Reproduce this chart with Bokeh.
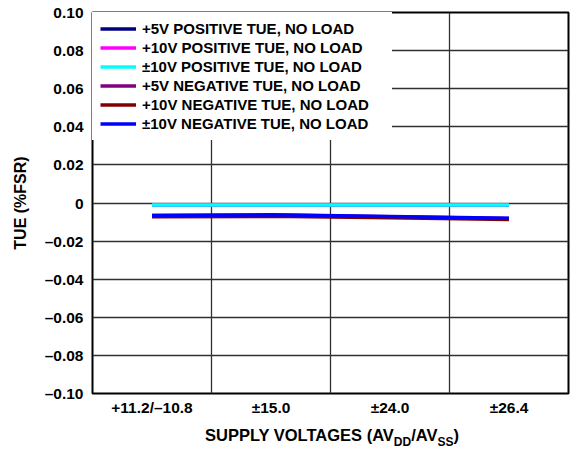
from bokeh.plotting import figure
from bokeh.layouts import column
from bokeh.models import FixedTicker, Range1d, Legend, LegendItem, Div
from bokeh.embed import file_html
from bokeh.resources import INLINE

# ---- data ----
categories = ["+11.2/\u201310.8", "\u00b115.0", "\u00b124.0", "\u00b126.4"]
series_names = [
    "+5V POSITIVE TUE, NO LOAD",
    "+10V POSITIVE TUE, NO LOAD",
    "\u00b110V POSITIVE TUE, NO LOAD",
    "+5V NEGATIVE TUE, NO LOAD",
    "+10V NEGATIVE TUE, NO LOAD",
    "\u00b110V NEGATIVE TUE, NO LOAD",
]
pos_5v = [-0.0010, -0.0010, -0.0010, -0.0010]
pos_10v = [-0.0010, -0.0010, -0.0010, -0.0010]
pos_pm10v = [-0.0010, -0.0010, -0.0010, -0.0010]
neg_5v = [-0.0066, -0.0063, -0.0072, -0.0081]
neg_10v = [-0.0072, -0.0070, -0.0078, -0.0087]
neg_pm10v = [-0.0066, -0.0062, -0.0071, -0.0080]
y_ticks = [-0.10, -0.08, -0.06, -0.04, -0.02, 0.0, 0.02, 0.04, 0.06, 0.08, 0.10]
y_tick_labels = ["\u20130.10", "\u20130.08", "\u20130.06", "\u20130.04", "\u20130.02", "0",
                 "0.02", "0.04", "0.06", "0.08", "0.10"]
y_title = "TUE (%FSR)"
x_title_parts = ["SUPPLY VOLTAGES (AV", "DD", "/AV", "SS", ")"]

series = [pos_5v, pos_10v, pos_pm10v, neg_5v, neg_10v, neg_pm10v]
colors = ["#000080", "#ff00ff", "#00ffff", "#800080", "#800000", "#0000ff"]

FONT = "Liberation Sans"

n = len(categories)
x_pos = [i + 0.5 for i in range(n)]

p = figure(frame_width=476, frame_height=381, output_backend="svg", toolbar_location=None,
           x_range=Range1d(0, n), y_range=Range1d(-0.1, 0.1),
           min_border_left=92, min_border_right=6, min_border_top=12, min_border_bottom=30)

p.background_fill_color = "white"
p.border_fill_color = "white"
p.outline_line_color = "black"
p.outline_line_width = 2

# grids
p.xgrid.ticker = FixedTicker(ticks=list(range(1, n)))
p.ygrid.ticker = FixedTicker(ticks=y_ticks)
for g in (p.xgrid, p.ygrid):
    g.grid_line_color = "#303030"
    g.grid_line_width = 1.3

# axes
p.xaxis.ticker = FixedTicker(ticks=x_pos)
p.xaxis.major_label_overrides = {x: c for x, c in zip(x_pos, categories)}
p.yaxis.ticker = FixedTicker(ticks=y_ticks)
p.yaxis.major_label_overrides = {t: l for t, l in zip(y_ticks, y_tick_labels)}
for ax in (p.xaxis, p.yaxis):
    ax.axis_line_color = None
    ax.major_tick_line_color = None
    ax.minor_tick_line_color = None
    ax.major_tick_out = 0
    ax.major_tick_in = 0
    ax.minor_tick_out = 0
    ax.major_label_text_font = FONT
    ax.major_label_text_font_size = "15.5px"
    ax.major_label_text_font_style = "bold"
    ax.major_label_text_color = "black"
p.xaxis.major_label_standoff = 5
p.yaxis.major_label_standoff = 9
p.yaxis.axis_label = y_title
p.yaxis.axis_label_text_font = FONT
p.yaxis.axis_label_text_font_size = "16px"
p.yaxis.axis_label_text_font_style = "bold"
p.yaxis.axis_label_text_color = "black"
p.yaxis.axis_label_standoff = 13

# lines
items = []
for name, ys, col in zip(series_names, series, colors):
    r = p.line(x_pos, ys, line_color=col, line_width=3.5)
    items.append(LegendItem(label=name, renderers=[r]))

legend = Legend(items=items, location="top_left")
legend.margin = 0
legend.padding = 7
legend.spacing = 2
legend.glyph_width = 36
legend.glyph_height = 15
legend.label_height = 15
legend.label_width = 242
legend.label_standoff = 6
legend.label_text_font = FONT
legend.label_text_font_size = "15px"
legend.label_text_font_style = "bold"
legend.label_text_color = "black"
legend.border_line_color = "white"
legend.border_line_width = 1
legend.background_fill_color = "white"
legend.background_fill_alpha = 1.0
p.add_layout(legend)

# x-axis title with real subscripts
sub = "font-size:12px;vertical-align:-5px;line-height:0;"
x_title_html = (
    '<div style="width:464px;margin-left:100px;padding-top:3px;text-align:center;'
    "font-family:'Liberation Sans';font-weight:bold;font-size:16.5px;color:black;"
    'line-height:18px;white-space:nowrap;">'
    f'{x_title_parts[0]}<span style="{sub}">{x_title_parts[1]}</span>'
    f'{x_title_parts[2]}<span style="{sub}">{x_title_parts[3]}</span>{x_title_parts[4]}'
    '</div>'
)
title_div = Div(text=x_title_html, width=574, height=29, margin=0)

layout = column(p, title_div, spacing=0)

open("out.html", "w").write(file_html(layout, INLINE))
